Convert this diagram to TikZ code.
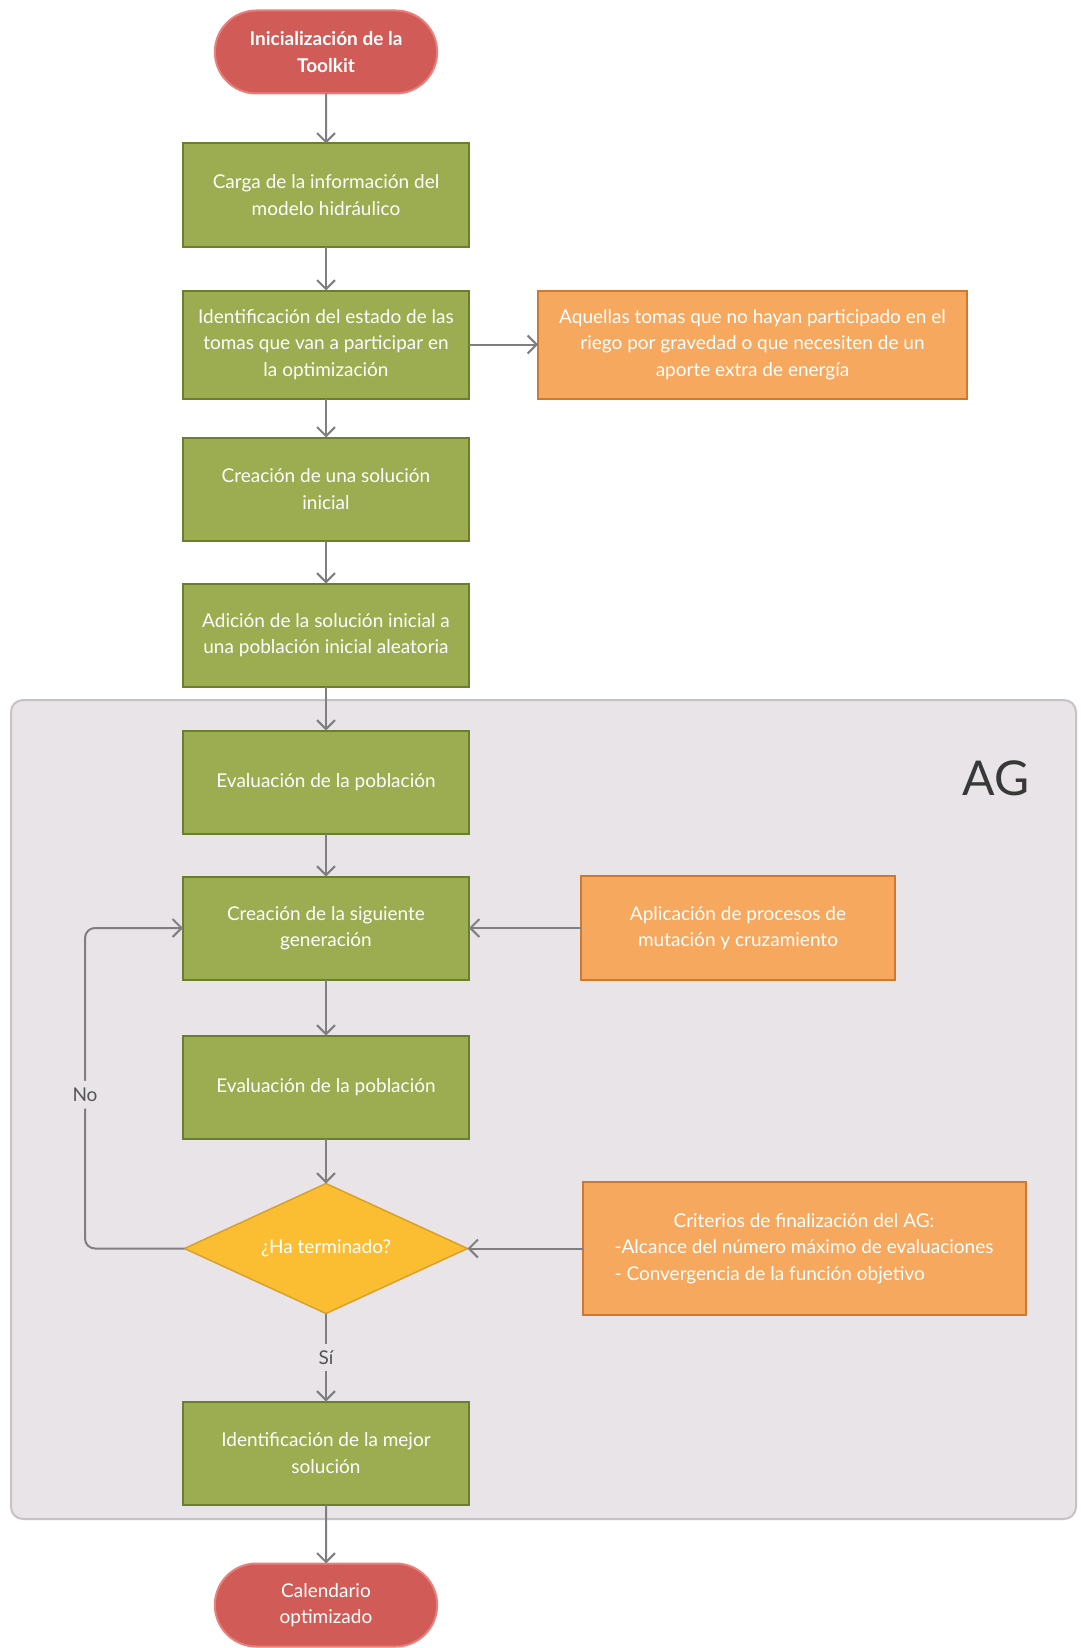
\documentclass[tikz,border=0pt]{standalone}
\usepackage{fontspec}
\setmainfont{Lato}
\usetikzlibrary{positioning,arrows.meta,shapes.misc,shapes.geometric}
\definecolor{fcgreen}{HTML}{9BAC51}
\definecolor{fcgreendark}{HTML}{6B7E2C}
\definecolor{fcred}{HTML}{D15C57}
\definecolor{fcredlight}{HTML}{E97F7C}
\definecolor{fcorange}{HTML}{F6A85E}
\definecolor{fcorangedark}{HTML}{D0782E}
\definecolor{fcyellow}{HTML}{FBBE33}
\definecolor{fcyellowdark}{HTML}{D9A02A}
\definecolor{fcgray}{HTML}{7F7F7F}
\definecolor{fclabel}{HTML}{555555}
\definecolor{agback}{HTML}{E8E4E8}
\definecolor{agborder}{HTML}{C6C2C6}
\newcommand{\fcfont}{\fontsize{19}{26.5}\selectfont}
\tikzset{
  fc process/.style={
    rectangle,
    minimum width=286pt,
    minimum height=103pt,
    line width=2pt,
    outer sep=0pt,
    draw=fcgreendark,
    fill=fcgreen,
    text=white,
    align=center,
    font=\fcfont,
  },
  fc note/.style={
    rectangle,
    line width=2pt,
    outer sep=0pt,
    draw=fcorangedark,
    fill=fcorange,
    text=white,
    align=center,
    font=\fcfont,
  },
  fc decision/.style={
    diamond,
    aspect=2.18,
    minimum width=283pt,
    minimum height=130pt,
    inner sep=0pt,
    outer sep=0pt,
    line width=1.5pt,
    draw=fcyellowdark,
    fill=fcyellow,
    text=white,
    font=\fcfont,
  },
  fc terminal/.style={
    rounded rectangle,
    minimum width=229pt,
    minimum height=83pt,
    line width=2pt,
    outer sep=0pt,
    draw=fcredlight,
    fill=fcred,
    text=white,
    align=center,
    font=\fcfont,
  },
  fc arrow/.style={-{Straight Barb[length=9pt,width=18pt]}, line width=2pt, draw=fcgray},
  fc line/.style={line width=2pt, draw=fcgray},
  fc label/.style={fill=agback, text=fclabel, font=\fcfont, inner sep=7pt},
  ag group/.style={rounded corners=12pt, fill=agback, draw=agborder, line width=2pt},
  ag title/.style={text=black!78, font=\fontsize{48}{56}\selectfont, inner sep=0pt},
}

\begin{document}
\begin{tikzpicture}
  \useasboundingbox (0,0) rectangle (1080pt,-1648pt);
  \draw[ag group] (11pt,-700pt) rectangle (1076pt,-1519pt);
  \node[ag title] (ag) at (996pt,-778pt) {AG};

  \node[fc terminal,font=\fcfont\bfseries] (start) at (326pt,-52pt) {Inicialización de la\\Toolkit};

  \node[fc process,below=50pt of start] (load) {Carga de la información del\\modelo hidráulico};
  \node[fc process,minimum height=108pt,below=44pt of load] (ident) {Identificación del estado de las\\tomas que van a participar en\\la optimización};
  \node[fc note,minimum width=429pt,minimum height=108pt,right=69pt of ident] (tomas) {Aquellas tomas que no hayan participado en el\\riego por gravedad o que necesiten de un\\aporte extra de energía};
  \node[fc process,below=39pt of ident] (init) {Creación de una solución\\inicial};
  \node[fc process,below=43pt of init] (pop) {Adición de la solución inicial a\\una población inicial aleatoria};

  \node[fc process,below=44pt of pop] (eval1) {Evaluación de la población};
  \node[fc process,below=43pt of eval1] (gen) {Creación de la siguiente\\generación};
  \node[fc note,minimum width=314pt,minimum height=104pt,right=112pt of gen] (mut) {Aplicación de procesos de\\mutación y cruzamiento};
  \node[fc process,below=56pt of gen] (eval2) {Evaluación de la población};
  \node[fc decision,below=45pt of eval2] (done) {¿Ha terminado?};
  \node[fc note,minimum width=443pt,minimum height=133pt,right=115pt of done] (crit) {%
    \begin{tabular}{@{}l@{}}
      \multicolumn{1}{@{}c@{}}{Criterios de finalización del AG:}\\
      -Alcance del número máximo de evaluaciones\\
      - Convergencia de la función objetivo
    \end{tabular}};
  \node[fc process,below=88pt of done] (best) {Identificación de la mejor\\solución};

  \node[fc terminal,below=59pt of best] (end) {Calendario\\optimizado};

  \coordinate (nobend) at ([xshift=-98pt]gen.west);

  \draw[fc arrow] (start) -- (load);
  \draw[fc arrow] (load) -- (ident);
  \draw[fc arrow] (ident) -- (tomas);
  \draw[fc arrow] (ident) -- (init);
  \draw[fc arrow] (init) -- (pop);
  \draw[fc arrow] (pop) -- (eval1);
  \draw[fc arrow] (eval1) -- (gen);
  \draw[fc arrow] (mut) -- (gen);
  \draw[fc arrow] (gen) -- (eval2);
  \draw[fc arrow] (eval2) -- (done);
  \draw[fc arrow] (crit) -- (done);
  \draw[fc arrow] (done) -- node[fc label] (si) {Sí} (best);
  \draw[fc arrow,rounded corners=10pt] (done.west) -| node[fc label,pos=0.74] (no) {No} (nobend) -- (gen.west);
  \draw[fc arrow] (best) -- (end);
\end{tikzpicture}
\end{document}
